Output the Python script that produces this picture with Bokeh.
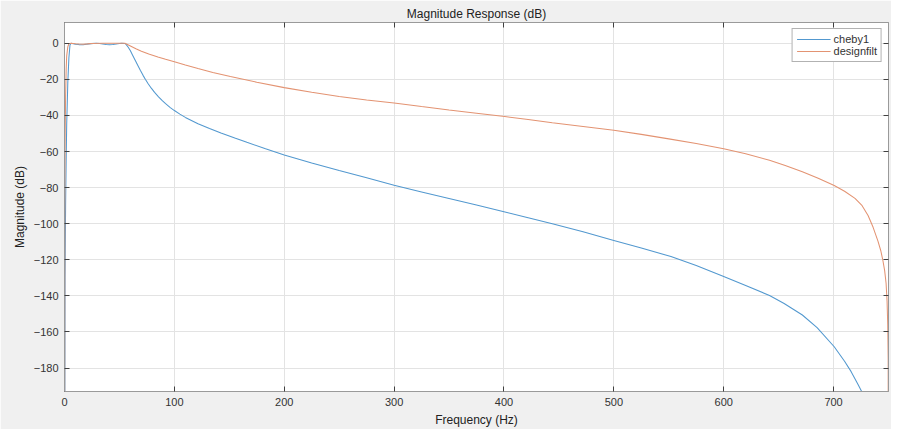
from bokeh.plotting import figure
from bokeh.models import LinearAxis, Range1d, Legend, LegendItem, FixedTicker, CustomJSTickFormatter
from bokeh.embed import file_html
from bokeh.resources import INLINE

# cheby1 magnitude response (Hz, dB)
cheby_f = [0, 0.5, 1, 1.5, 2, 3, 4, 5, 6, 8, 10, 13, 17, 20, 24, 29, 32, 35, 38,
           41, 44, 47, 50, 52, 55, 56, 58, 60, 62, 64.7, 67, 69, 71.5, 73.7,
           76, 79, 82, 85.6, 89, 92, 96, 100, 105, 110, 121.5, 132, 142.4, 155,
           166, 183, 200, 225, 250, 275, 300, 325, 350, 375, 400, 422, 444, 472,
           500, 525, 552, 575, 600, 620, 641.7, 655, 671.6, 685, 700.6, 710,
           716, 722.4, 726, 735, 745, 750]
cheby_db = [-320, -130, -90, -65, -45, -22, -8, -1, 0, -0.3, -0.5, -0.75, -0.8,
            -0.55, -0.2, 0, -0.15, -0.4, -0.65, -0.8, -0.65, -0.4, -0.1, 0,
            -0.1, -0.6, -2.2, -4.2, -6.6, -9.8, -12.6, -15, -17.8, -20.1, -22.3,
            -24.9, -27.2, -29.7, -31.8, -33.5, -35.5, -37.3, -39.3, -41.1,
            -44.6, -47.2, -49.7, -52.5, -54.9, -58.5, -61.9, -66.3, -70.5,
            -74.6, -78.7, -82.4, -86, -89.7, -93.4, -96.7, -100, -104.5,
            -109.3, -113.5, -118.2, -123.2, -129.3, -134.2, -139.8, -144.2,
            -150.6, -157.6, -168.2, -176.2, -182, -189.2, -193.5, -207, -235,
            -320]

# designfilt magnitude response (Hz, dB)
design_f = [0, 0.3, 0.6, 1, 1.5, 2, 3, 4, 6, 10, 13, 17, 21, 25, 35, 45, 55, 60,
            65, 70, 76.7, 85, 92, 100, 110, 121.5, 135, 151, 175, 200, 225,
            250, 275, 300, 325, 350, 375, 400.7, 422, 444, 472, 500, 525, 550,
            575, 600, 620, 641.7, 656, 671.6, 686, 700.6, 710, 719.5, 726,
            731.4, 736, 740.4, 743, 744.9, 746.5, 747.8, 748.7, 749.3, 749.7,
            750]
design_db = [-320, -80, -50, -30, -15, -7, -2, -0.3, 0, -0.3, -0.45, -0.5,
             -0.35, -0.1, 0, 0, 0, -1.5, -3, -4.4, -6, -7.6, -8.9, -10.3, -12.1,
             -14, -16.2, -18.4, -21.6, -24.6, -27.2, -29.5, -31.4, -33.1, -35.1,
             -37, -38.8, -40.6, -42.3, -44.1, -46.1, -48.2, -50.5, -53, -55.6,
             -58.5, -61.3, -64.8, -67.7, -71.2, -74.8, -78.8, -82, -86, -90,
             -95.5, -102, -109.7, -115, -120.4, -126, -133, -143, -156, -175,
             -320]

x_ticks = [0, 100, 200, 300, 400, 500, 600, 700]
y_ticks = [0, -20, -40, -60, -80, -100, -120, -140, -160, -180]

FONT = "Liberation Sans"
AX_LINE = "#9A9A9A"
TICK = "#404040"
TXT = "#333333"

p = figure(width=891, height=429, output_backend="svg", toolbar_location=None,
           x_range=Range1d(0, 750), y_range=Range1d(-193, 11.5),
           title="Magnitude Response (dB)",
           min_border_left=64, min_border_right=3, min_border_top=22,
           min_border_bottom=35)
p.background_fill_color = "white"
p.border_fill_color = "#F0F0F0"
p.outline_line_color = AX_LINE

p.title.align = "center"
p.title.text_font = FONT
p.title.text_font_size = "12px"
p.title.text_font_style = "normal"
p.title.text_color = "#222222"
p.title.standoff = 4

for ax, ticks, lab in ((p.xaxis[0], x_ticks, "Frequency (Hz)"),
                       (p.yaxis[0], y_ticks, "Magnitude (dB)")):
    ax.ticker = FixedTicker(ticks=ticks)
    ax.axis_label = lab
    ax.axis_label_text_font = FONT
    ax.axis_label_text_font_size = "12px"
    ax.axis_label_text_font_style = "normal"
    ax.axis_label_text_color = "#222222"
    ax.axis_label_standoff = 4
    ax.major_label_text_font = FONT
    ax.major_label_text_font_size = "11px"
    ax.major_label_text_color = TXT
    ax.major_label_standoff = 6
    ax.major_tick_in = 5
    ax.major_tick_out = 0
    ax.minor_tick_line_color = None
    ax.axis_line_color = AX_LINE
    ax.major_tick_line_color = TICK

for loc, ticks in (("right", y_ticks), ("above", x_ticks)):
    ax = LinearAxis(ticker=FixedTicker(ticks=ticks),
                    formatter=CustomJSTickFormatter(code="return ''"))
    ax.major_label_standoff = 0
    ax.major_tick_in = 5
    ax.major_tick_out = 0
    ax.minor_tick_line_color = None
    ax.axis_line_color = AX_LINE
    ax.major_tick_line_color = TICK
    p.add_layout(ax, loc)

p.xgrid.ticker = FixedTicker(ticks=x_ticks)
p.ygrid.ticker = FixedTicker(ticks=y_ticks)
p.grid.grid_line_color = "#E3E3E3"
p.grid.grid_line_width = 1

r1 = p.line(cheby_f, cheby_db, line_color="#5298CF", line_width=1.05)
r2 = p.line(design_f, design_db, line_color="#E39372", line_width=1.05)

legend = Legend(items=[LegendItem(label="cheby1", renderers=[r1]),
                       LegendItem(label="designfilt", renderers=[r2])],
                location="top_right")
legend.label_text_font = FONT
legend.label_text_font_size = "11px"
legend.label_text_color = TXT
legend.label_height = 12
legend.label_standoff = 3
legend.glyph_width = 34
legend.glyph_height = 12
legend.spacing = 0
legend.padding = 4
legend.margin = 6
legend.border_line_color = "#666666"
legend.background_fill_color = "white"
legend.background_fill_alpha = 1
p.add_layout(legend)

open("out.html", "w").write(file_html(p, INLINE))
